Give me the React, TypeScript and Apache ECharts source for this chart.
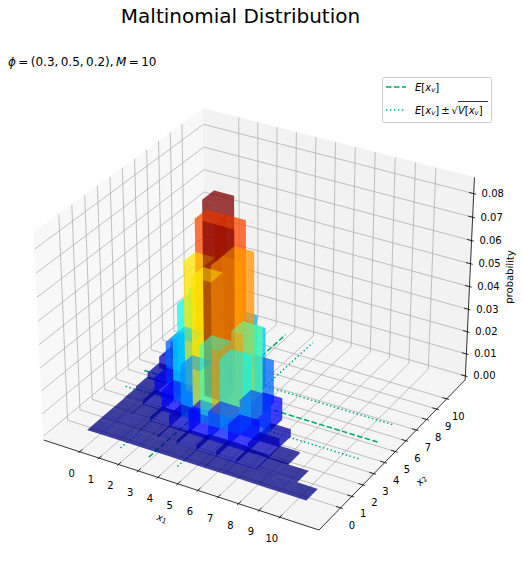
import React, { useEffect, useRef } from "react";
import * as echarts from "echarts";

const x1Categories = [0, 1, 2, 3, 4, 5, 6, 7, 8, 9, 10];
const x2Categories = [0, 1, 2, 3, 4, 5, 6, 7, 8, 9, 10];
const zTicks = [0, 0.01, 0.02, 0.03, 0.04, 0.05, 0.06, 0.07, 0.08];
// probability read per x1 row, index = x2
const pX1_0 = [0.0000001, 0.0000026, 0.0000288, 0.000192, 0.00084, 0.00252, 0.00525, 0.0075, 0.00703, 0.0039, 0.00098];
const pX1_1 = [0.0000015, 0.0000346, 0.000346, 0.00202, 0.00756, 0.0189, 0.0315, 0.03375, 0.0211, 0.00586];
const pX1_2 = [0.0000104, 0.000207, 0.00181, 0.00907, 0.02835, 0.0567, 0.0709, 0.0506, 0.0158];
const pX1_3 = [0.0000415, 0.000726, 0.00544, 0.02268, 0.0567, 0.08505, 0.0709, 0.0253];
const pX1_4 = [0.000109, 0.00163, 0.0102, 0.034, 0.0638, 0.0638, 0.0266];
const pX1_5 = [0.000196, 0.00245, 0.01225, 0.0306, 0.0383, 0.0191];
const pX1_6 = [0.000245, 0.00245, 0.00919, 0.0153, 0.00957];
const pX1_7 = [0.00021, 0.00157, 0.00394, 0.00328];
const pX1_8 = [0.000118, 0.00059, 0.000738];
const pX1_9 = [0.000039, 0.000098];
const pX1_10 = [0.0000059];
const probRows = [pX1_0, pX1_1, pX1_2, pX1_3, pX1_4, pX1_5, pX1_6, pX1_7, pX1_8, pX1_9, pX1_10];
const meanX1 = 3;
const meanX2 = 5;
const sdX1 = 1.449;
const sdX2 = 1.581;

const FONT = "DejaVu Sans";
const LINE = "#00a968";
const DOT = "#00a98a";
const ALPHA = 0.5;

// matplotlib's Axes3D view
const XLIM = [-1.6, 11.6];
const YLIM = [-1.6, 11.6];
const ZLIM = [0, 0.08505];
const BOX = [1.14286, 1.14286, 0.85714];
const DIST = 10;
const KX = 2648, KY = 2650, OX = 258.4, OY = 309.2;
const n3 = [0.43301, -0.75, 0.5];
const r3 = [0.86603, 0.5, 0];
const u3 = [-0.25, 0.43301, 0.86603];
const dot = (a: number[], b: number[]) => a[0] * b[0] + a[1] * b[1] + a[2] * b[2];
function rel(x: number, y: number, z: number) {
  return [
    ((x - XLIM[0]) / (XLIM[1] - XLIM[0]) - 0.5) * BOX[0],
    ((y - YLIM[0]) / (YLIM[1] - YLIM[0]) - 0.5) * BOX[1],
    ((z - ZLIM[0]) / (ZLIM[1] - ZLIM[0]) - 0.5) * BOX[2],
  ];
}
function proj(x: number, y: number, z: number): [number, number] {
  const p = rel(x, y, z);
  const w = DIST - dot(p, n3);
  return [OX + (KX * dot(p, r3)) / w, OY - (KY * dot(p, u3)) / w];
}
const depth = (x: number, y: number, z: number) => -10 / (DIST - dot(rel(x, y, z), n3));

const dX = (XLIM[1] - XLIM[0]) / 48;
const dY = (YLIM[1] - YLIM[0]) / 48;
const dZ = (ZLIM[1] - ZLIM[0]) / 48;
const PX = [XLIM[0] - dX, XLIM[1] + dX];
const PY = [YLIM[0] - dY, YLIM[1] + dY];
const PZ = [ZLIM[0] - dZ, ZLIM[1] + dZ];

function jet(v: number) {
  const seg = (s: number[][]) => {
    for (let i = 1; i < s.length; i++) {
      if (v <= s[i][0]) return s[i - 1][1] + ((v - s[i - 1][0]) / (s[i][0] - s[i - 1][0])) * (s[i][1] - s[i - 1][1]);
    }
    return s[s.length - 1][1];
  };
  const r = seg([[0, 0], [0.35, 0], [0.66, 1], [0.89, 1], [1, 0.5]]);
  const g = seg([[0, 0], [0.125, 0], [0.375, 1], [0.64, 1], [0.91, 0], [1, 0]]);
  const b = seg([[0, 0.5], [0.11, 1], [0.34, 1], [0.65, 0], [1, 0]]);
  return `rgba(${Math.round(r * 255)},${Math.round(g * 255)},${Math.round(b * 255)},${ALPHA})`;
}

const FACES = [
  [[0, 0, 0], [0, 1, 0], [1, 1, 0], [1, 0, 0]],
  [[0, 0, 1], [1, 0, 1], [1, 1, 1], [0, 1, 1]],
  [[0, 0, 0], [1, 0, 0], [1, 0, 1], [0, 0, 1]],
  [[0, 1, 0], [0, 1, 1], [1, 1, 1], [1, 1, 0]],
  [[0, 0, 0], [0, 0, 1], [0, 1, 1], [0, 1, 0]],
  [[1, 0, 0], [1, 1, 0], [1, 1, 1], [1, 0, 1]],
];
const maxP = Math.max(...probRows.flat());
const faceCorners = (a: number, b: number, p: number, f: number) =>
  FACES[f].map((c) => [a - 0.5 + c[0], b - 0.5 + c[1], c[2] * p]);

const faceData: number[][] = [];
probRows.forEach((row, a) =>
  row.forEach((p, b) => {
    FACES.forEach((_, f) => faceData.push([x1Categories[a], x2Categories[b], p, f]));
  })
);
const faceDepth = (d: number[]) => {
  const cs = faceCorners(d[0], d[1], d[2], d[3]);
  return cs.reduce((s, c) => s + depth(c[0], c[1], c[2]), 0) / cs.length;
};
faceData.sort((p, q) => faceDepth(q) - faceDepth(p));

const panes = [
  [[PX[0], PY[0], PZ[0]], [PX[0], PY[1], PZ[0]], [PX[0], PY[1], PZ[1]], [PX[0], PY[0], PZ[1]]],
  [[PX[0], PY[1], PZ[0]], [PX[1], PY[1], PZ[0]], [PX[1], PY[1], PZ[1]], [PX[0], PY[1], PZ[1]]],
  [[PX[0], PY[0], PZ[0]], [PX[1], PY[0], PZ[0]], [PX[1], PY[1], PZ[0]], [PX[0], PY[1], PZ[0]]],
];
const paneFill = ["#f8f8f8", "#f2f2f2", "#f5f5f5"];

const pts = (list: number[][]) => list.map((c) => proj(c[0], c[1], c[2]));

function gridLine(kind: number, v: number) {
  if (kind === 0) return pts([[v, PY[0], PZ[0]], [v, PY[1], PZ[0]], [v, PY[1], PZ[1]]]);
  if (kind === 1) return pts([[PX[1], v, PZ[0]], [PX[0], v, PZ[0]], [PX[0], v, PZ[1]]]);
  return pts([[PX[0], PY[0], v], [PX[0], PY[1], v], [PX[1], PY[1], v]]);
}

const gridData: number[][] = [
  ...x1Categories.map((v) => [0, v]),
  ...x2Categories.map((v) => [1, v]),
  ...zTicks.map((v) => [2, v]),
];

const tickY = (YLIM[1] - YLIM[0]) / 12;
const tickX = (XLIM[1] - XLIM[0]) / 12;
function tickItem(kind: number, v: number) {
  let seg: number[][];
  let off: number[];
  let label: string;
  if (kind === 0) {
    seg = [[v, PY[0] - 0.1 * tickY, PZ[0]], [v, PY[0] + 0.2 * tickY, PZ[0]]];
    off = [-8, 21.5];
    label = String(v);
  } else if (kind === 1) {
    seg = [[PX[1] + 0.1 * tickX, v, PZ[0]], [PX[1] - 0.2 * tickX, v, PZ[0]]];
    off = [11.5, 17.5];
    label = String(v);
  } else {
    seg = [[PX[1] + 0.1 * tickX, PY[1], v], [PX[1] - 0.2 * tickX, PY[1], v]];
    off = [19, 0];
    label = v.toFixed(2);
  }
  const base = kind === 0 ? proj(v, PY[0], PZ[0]) : kind === 1 ? proj(PX[1], v, PZ[0]) : proj(PX[1], PY[1], v);
  return { seg: pts(seg), label, at: [base[0] + off[0], base[1] + off[1]] };
}

const refLines: number[][] = [
  [0, meanX1, 0],
  [1, meanX2, 0],
  [0, meanX1 - sdX1, 1],
  [0, meanX1 + sdX1, 1],
  [1, meanX2 - sdX2, 1],
  [1, meanX2 + sdX2, 1],
];
const REF_FROM = -1;
const REF_TO = 11;

const mathI = { fontFamily: FONT, fontStyle: "italic" as const, fontSize: 10, fill: "#000" };
const mathN = { fontFamily: FONT, fontSize: 10, fill: "#000" };
const mathS = { fontFamily: FONT, fontStyle: "italic" as const, fontSize: 7, fill: "#000", padding: [5, 0, 0, 0] };
const mathS1 = { fontFamily: FONT, fontSize: 7, fill: "#000", padding: [5, 0, 0, 0] };
const mathI12 = { fontFamily: FONT, fontStyle: "italic" as const, fontSize: 12, fill: "#000" };
const mathN12 = { fontFamily: FONT, fontSize: 12, fill: "#000" };

export default function App() {
  const ref = useRef<HTMLDivElement>(null);
  useEffect(() => {
    const chart = echarts.init(ref.current!, null, { renderer: "svg" });
    chart.setOption({
      animation: false,
      backgroundColor: "#fff",
      graphic: [
        { type: "text", x: 240.5, y: 16, z: 50, style: { text: "Maltinomial Distribution", fontFamily: FONT, fontSize: 20, fill: "#000", align: "center", verticalAlign: "middle" } },
        {
          type: "text", x: 8, y: 62, z: 50,
          style: {
            text: "{i|ϕ}{n|\u2009=\u2009(0.3,\u20090.5,\u20090.2),\u2009}{i|M}{n|\u2009=\u200910}",
            rich: { i: mathI12, n: mathN12 }, verticalAlign: "middle", align: "left",
          },
        },
        {
          type: "text", x: 162, y: 518, rotation: -0.33, z: 50,
          style: { text: "{i|x}{s|1}", rich: { i: mathI, s: mathS1 }, align: "center", verticalAlign: "middle" },
        },
        {
          type: "text", x: 421, y: 480, rotation: 0.8, z: 50,
          style: { text: "{i|x}{s|2}", rich: { i: mathI, s: mathS1 }, align: "center", verticalAlign: "middle" },
        },
        { type: "text", x: 509.5, y: 277, rotation: Math.PI / 2 - 0.03, z: 50, style: { text: "probability", fontFamily: FONT, fontSize: 10, fill: "#000", align: "center", verticalAlign: "middle" } },
        { type: "rect", z: 50, shape: { x: 382.5, y: 77.5, width: 109, height: 45, r: 2 }, style: { fill: "rgba(255,255,255,0.8)", stroke: "#ccc", lineWidth: 1 } },
        { type: "line", z: 51, shape: { x1: 386, y1: 87, x2: 406, y2: 87 }, style: { stroke: LINE, lineWidth: 1.5, lineDash: [5.55, 2.4] } },
        { type: "line", z: 51, shape: { x1: 386, y1: 110, x2: 406, y2: 110 }, style: { stroke: DOT, lineWidth: 1.5, lineDash: [1.5, 2.475] } },
        {
          type: "text", x: 415, y: 87, z: 51,
          style: { text: "{i|E}{n|[}{i|x}{s|v}{n|]}", rich: { i: mathI, n: mathN, s: mathS }, verticalAlign: "middle", align: "left" },
        },
        {
          type: "text", x: 415, y: 110, z: 51,
          style: { text: "{i|E}{n|[}{i|x}{s|v}{n|]\u2009±\u2009√}{i|V}{n|[}{i|x}{s|v}{n|]}", rich: { i: mathI, n: mathN, s: mathS }, verticalAlign: "middle", align: "left" },
        },
        { type: "line", z: 51, shape: { x1: 458, y1: 101.5, x2: 488, y2: 101.5 }, style: { stroke: "#000", lineWidth: 0.8 } },
      ],
      series: [
        {
          type: "custom", coordinateSystem: "none", silent: true, z: 1, progressive: 0,
          data: paneFill.map((_, i) => [i]),
          renderItem: (_p: any, api: any) => {
            const i = api.value(0);
            return { type: "polygon", shape: { points: pts(panes[i]) }, style: { fill: paneFill[i], stroke: paneFill[i], lineWidth: 0.8 } };
          },
        },
        {
          type: "custom", coordinateSystem: "none", silent: true, z: 2, progressive: 0,
          data: gridData,
          renderItem: (_p: any, api: any) => ({
            type: "polyline",
            shape: { points: gridLine(api.value(0), api.value(1)) },
            style: { stroke: "#b0b0b0", lineWidth: 0.8, fill: "none" },
          }),
        },
        {
          type: "custom", coordinateSystem: "none", silent: true, z: 3, progressive: 0,
          data: [0, 1, 2],
          renderItem: (_p: any, api: any) => {
            const k = api.value(0);
            const edge =
              k === 0 ? [[PX[0], PY[0], PZ[0]], [PX[1], PY[0], PZ[0]]]
              : k === 1 ? [[PX[1], PY[0], PZ[0]], [PX[1], PY[1], PZ[0]]]
              : [[PX[1], PY[1], PZ[0]], [PX[1], PY[1], PZ[1]]];
            return { type: "polyline", shape: { points: pts(edge) }, style: { stroke: "#000", lineWidth: 0.8, fill: "none" } };
          },
        },
        {
          type: "custom", coordinateSystem: "none", silent: true, z: 3, progressive: 0,
          data: gridData,
          renderItem: (_p: any, api: any) => {
            const t = tickItem(api.value(0), api.value(1));
            return {
              type: "group",
              children: [
                { type: "polyline", shape: { points: t.seg }, style: { stroke: "#000", lineWidth: 0.8, fill: "none" } },
                { type: "text", x: t.at[0], y: t.at[1], style: { text: t.label, fontFamily: FONT, fontSize: 10, fill: "#000", align: "center", verticalAlign: "middle" } },
              ],
            };
          },
        },
        {
          type: "custom", coordinateSystem: "none", silent: true, z: 4, progressive: 0,
          data: refLines,
          renderItem: (_p: any, api: any) => {
            const axis = api.value(0), v = api.value(1), dotted = api.value(2);
            const seg = axis === 0 ? [[v, REF_FROM, 0], [v, REF_TO, 0]] : [[REF_FROM, v, 0], [REF_TO, v, 0]];
            return {
              type: "polyline",
              shape: { points: pts(seg) },
              style: { stroke: dotted ? DOT : LINE, lineWidth: 1.5, fill: "none", lineDash: dotted ? [1.5, 2.475] : [5.55, 2.4] },
            };
          },
        },
        {
          type: "custom", coordinateSystem: "none", silent: true, z: 5, progressive: 0,
          data: faceData,
          renderItem: (_p: any, api: any) => {
            const [a, b, p, f] = [api.value(0), api.value(1), api.value(2), api.value(3)];
            return {
              type: "polygon",
              shape: { points: pts(faceCorners(a, b, p, f)) },
              style: { fill: jet(p / maxP) },
            };
          },
        },
      ],
    });
    return () => chart.dispose();
  }, []);
  return <div ref={ref} style={{ position: "absolute", left: 0, top: 0, width: 523, height: 568 }} />;
}
